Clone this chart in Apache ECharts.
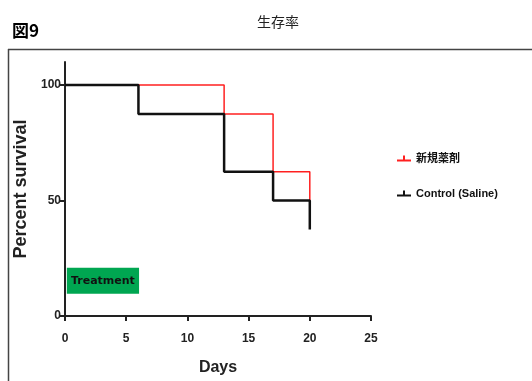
<!DOCTYPE html>
<html>
<head>
<meta charset="utf-8">
<script src="https://cdn.jsdelivr.net/npm/echarts@6/dist/echarts.min.js"></script>
<style>
html,body{margin:0;padding:0;background:#fff;}
#main{width:532px;height:381px;}
</style>
</head>
<body>
<div id="main"></div>
<script>
// 生存率データ (Days, Percent survival)
var newDrugName = '新規薬剤';
var controlName = 'Control (Saline)';
var newDrugDays = [0, 13, 17, 20];
var newDrugSurv = [100, 87.5, 62.5, 50];
var controlDays = [0, 6, 13, 17, 20];
var controlSurv = [100, 87.5, 62.5, 50, 37.5];
var xTicks = [0, 5, 10, 15, 20, 25];
var yTicks = [0, 50, 100];
var treatment = [[0.15, 9.6], [6.05, 20.9]]; // 投与期間の枠

function pairs(xs, ys) {
    var out = [];
    for (var i = 0; i < xs.length; i++) {
        out.push([xs[i], ys[i]]);
    }
    return out;
}

var legendIcon = 'path://M0,4 H6 V0 H8 V4 H14 V6 H0 Z';
var labelFont = 'Liberation Sans, Arial, sans-serif';
var myChart = echarts.init(document.getElementById('main'));
var option = {
    animation: false,
    title: {
        text: '生存率',
        left: 273,
        textAlign: 'center',
        top: 10,
        textStyle: {fontFamily: 'Noto Sans CJK JP', fontSize: 14, fontWeight: 'normal', color: '#222'}
    },
    graphic: [
        {type: 'text', left: 12, top: 22,
         style: {text: '図9', font: 'bold 17px "Noto Sans CJK JP"', fill: '#000'}},
        {type: 'line', shape: {x1: 8, y1: 49.5, x2: 532, y2: 49.5},
         style: {stroke: '#444', lineWidth: 1.5}},
        {type: 'line', shape: {x1: 8.5, y1: 49, x2: 8.5, y2: 381},
         style: {stroke: '#444', lineWidth: 1.5}}
    ],
    legend: {
        orient: 'vertical',
        left: 392,
        top: 148,
        itemGap: 24,
        itemWidth: 14,
        itemHeight: 6,
        textStyle: {fontFamily: 'Liberation Sans, Noto Sans CJK JP', fontSize: 11, fontWeight: 'bold', color: '#111'},
        data: [
            {name: newDrugName, icon: legendIcon},
            {name: controlName, icon: legendIcon}
        ]
    },
    grid: {left: 65, right: 161, top: 62, bottom: 65},
    xAxis: {
        type: 'value',
        min: 0,
        max: 25,
        interval: 5,
        name: 'Days',
        nameLocation: 'middle',
        nameGap: 44,
        nameTextStyle: {fontFamily: labelFont, fontSize: 16, fontWeight: 'bold', color: '#222'},
        splitLine: {show: false},
        axisLine: {lineStyle: {color: '#222', width: 2}},
        axisTick: {length: 5, lineStyle: {color: '#222', width: 2}},
        axisLabel: {margin: 17, fontFamily: labelFont, fontSize: 12, fontWeight: 'bold', color: '#222',
                    customValues: xTicks},
    },
    yAxis: {
        type: 'value',
        min: 0,
        max: 110,
        name: 'Percent survival',
        nameLocation: 'middle',
        nameGap: 33,
        nameTextStyle: {fontFamily: labelFont, fontSize: 18, fontWeight: 'bold', color: '#222'},
        splitLine: {show: false},
        axisLine: {lineStyle: {color: '#222', width: 2}},
        axisTick: {length: 5, lineStyle: {color: '#222', width: 2}, customValues: yTicks},
        axisLabel: {margin: 4, fontFamily: labelFont, fontSize: 12, fontWeight: 'bold', color: '#222',
                    customValues: yTicks}
    },
    series: [
        {
            name: newDrugName,
            type: 'line',
            step: 'end',
            symbol: 'none',
            z: 2,
            color: '#ff2020',
            lineStyle: {width: 1.5, color: '#ff2020'},
            data: pairs(newDrugDays, newDrugSurv)
        },
        {
            name: controlName,
            type: 'line',
            step: 'end',
            symbol: 'none',
            z: 3,
            color: '#111',
            lineStyle: {width: 2.5, color: '#111'},
            data: pairs(controlDays, controlSurv),
            markArea: {
                silent: true,
                itemStyle: {color: '#00a651', opacity: 1},
                label: {show: true, position: 'inside', color: '#111', fontFamily: 'DejaVu Sans',
                        fontSize: 11, fontWeight: 'bold', formatter: 'Treatment'},
                data: [[{xAxis: treatment[0][0], yAxis: treatment[0][1]},
                        {xAxis: treatment[1][0], yAxis: treatment[1][1]}]]
            }
        }
    ]
};
myChart.setOption(option);
</script>
</body>
</html>
